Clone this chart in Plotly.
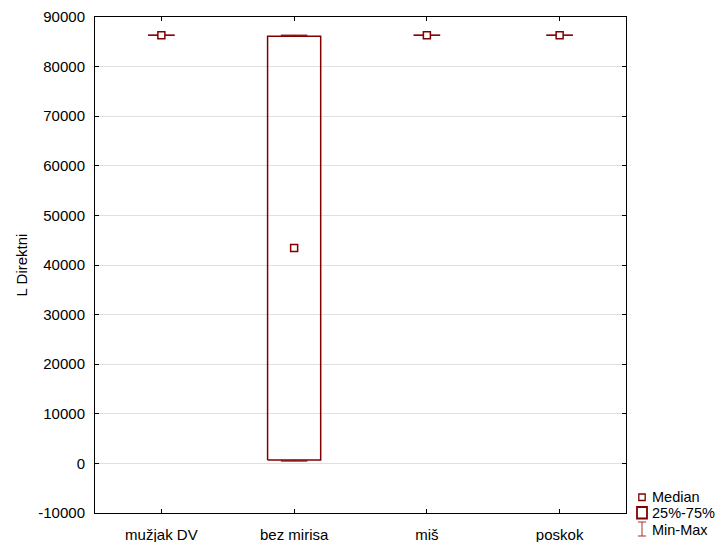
import plotly.graph_objects as go

# ---- data ----
categories = ["mužjak DV", "bez mirisa", "miš", "poskok"]
medians = [86330, 43430, 86330, 86330]
q1 = [86330, 700, 86330, 86330]
q3 = [86330, 86130, 86330, 86330]
mins = [86330, 480, 86330, 86330]
maxs = [86330, 86330, 86330, 86330]
y_ticks = [-10000, 0, 10000, 20000, 30000, 40000, 50000, 60000, 70000, 80000, 90000]
legend_labels = ["Median", "25%-75%", "Min-Max"]

RED = "#800000"
FONT = "Liberation Sans, Arial, sans-serif"
BOX_HALF = 0.2
CAP_HALF = 0.1

# plot area in pixels
L, R, T, B = 95, 626, 17, 513
W, H = 722, 542

fig = go.Figure()

xs = list(range(len(categories)))

# boxes
for i in xs:
    if q3[i] != q1[i]:
        fig.add_trace(go.Scatter(
            x=[i - BOX_HALF, i + BOX_HALF, i + BOX_HALF, i - BOX_HALF, i - BOX_HALF],
            y=[q1[i], q1[i], q3[i], q3[i], q1[i]],
            mode="lines", line=dict(color=RED, width=1.5),
            showlegend=False, hoverinfo="skip"))

# whiskers + caps
for i in xs:
    wx = [i, i, None, i, i, None,
          i - CAP_HALF, i + CAP_HALF, None, i - CAP_HALF, i + CAP_HALF]
    wy = [q3[i], maxs[i], None, q1[i], mins[i], None,
          maxs[i], maxs[i], None, mins[i], mins[i]]
    fig.add_trace(go.Scatter(x=wx, y=wy, mode="lines",
                             line=dict(color=RED, width=1.2),
                             showlegend=False, hoverinfo="skip"))

# medians
fig.add_trace(go.Scatter(
    x=xs, y=medians, mode="markers",
    marker=dict(symbol="square", size=7, color="white",
                line=dict(color=RED, width=1.5)),
    showlegend=False))

def px(x):
    return (x - L) / (R - L)

def py(y):
    return (B - y) / (B - T)

shapes = []
# legend: Median marker
shapes.append(dict(type="rect", xref="paper", yref="paper",
                   x0=px(638.8), x1=px(645.2), y0=py(500.5), y1=py(494),
                   line=dict(color=RED, width=1.3), fillcolor="white"))
# legend: box
shapes.append(dict(type="rect", xref="paper", yref="paper",
                   x0=px(637), x1=px(647), y0=py(518.5), y1=py(507),
                   line=dict(color=RED, width=1.8), fillcolor="white"))
# legend: min-max I-beam
for (x0, y0, x1, y1) in [(638, 522, 646, 522), (642, 522, 642, 536), (638, 536, 646, 536)]:
    shapes.append(dict(type="line", xref="paper", yref="paper",
                       x0=px(x0), x1=px(x1), y0=py(y0), y1=py(y1),
                       line=dict(color="#a03030", width=1)))

annotations = []
for lab, yc in zip(legend_labels, [497, 513, 530]):
    annotations.append(dict(text=lab, xref="paper", yref="paper",
                            x=px(650), y=py(yc), xanchor="left", yanchor="middle",
                            showarrow=False, font=dict(family=FONT, size=14.5, color="black")))

fig.update_layout(
    width=W, height=H,
    margin=dict(l=L, r=W - R, t=T, b=H - B, autoexpand=False),
    plot_bgcolor="white", paper_bgcolor="white",
    font=dict(family=FONT, size=15, color="black"),
    shapes=shapes, annotations=annotations,
    showlegend=False,
    xaxis=dict(
        range=[-0.5, len(categories) - 0.5],
        tickmode="array", tickvals=xs, ticktext=categories,
        showgrid=False, zeroline=False,
        showline=True, linecolor="black", linewidth=1, mirror="ticks",
        ticks="inside", ticklen=4, tickcolor="black",
        ticklabelstandoff=8, automargin=False,
        tickfont=dict(family=FONT, size=15),
    ),
    yaxis=dict(
        range=[-10000, 90000],
        tickmode="array", tickvals=y_ticks, ticktext=[str(v) for v in y_ticks],
        showgrid=True, gridcolor="#e0e0e0", gridwidth=1, zeroline=False,
        showline=True, linecolor="black", linewidth=1, mirror="ticks",
        ticks="inside", ticklen=4, tickcolor="black",
        ticklabelstandoff=6, automargin=False,
        tickfont=dict(family=FONT, size=15),
        title=dict(text="L Direktni", font=dict(family=FONT, size=15), standoff=7),
    ),
)

fig.write_html(
    "out.html",
    config={"displayModeBar": False},
    post_script="document.body.style.margin='0';document.body.style.padding='0';",
)
